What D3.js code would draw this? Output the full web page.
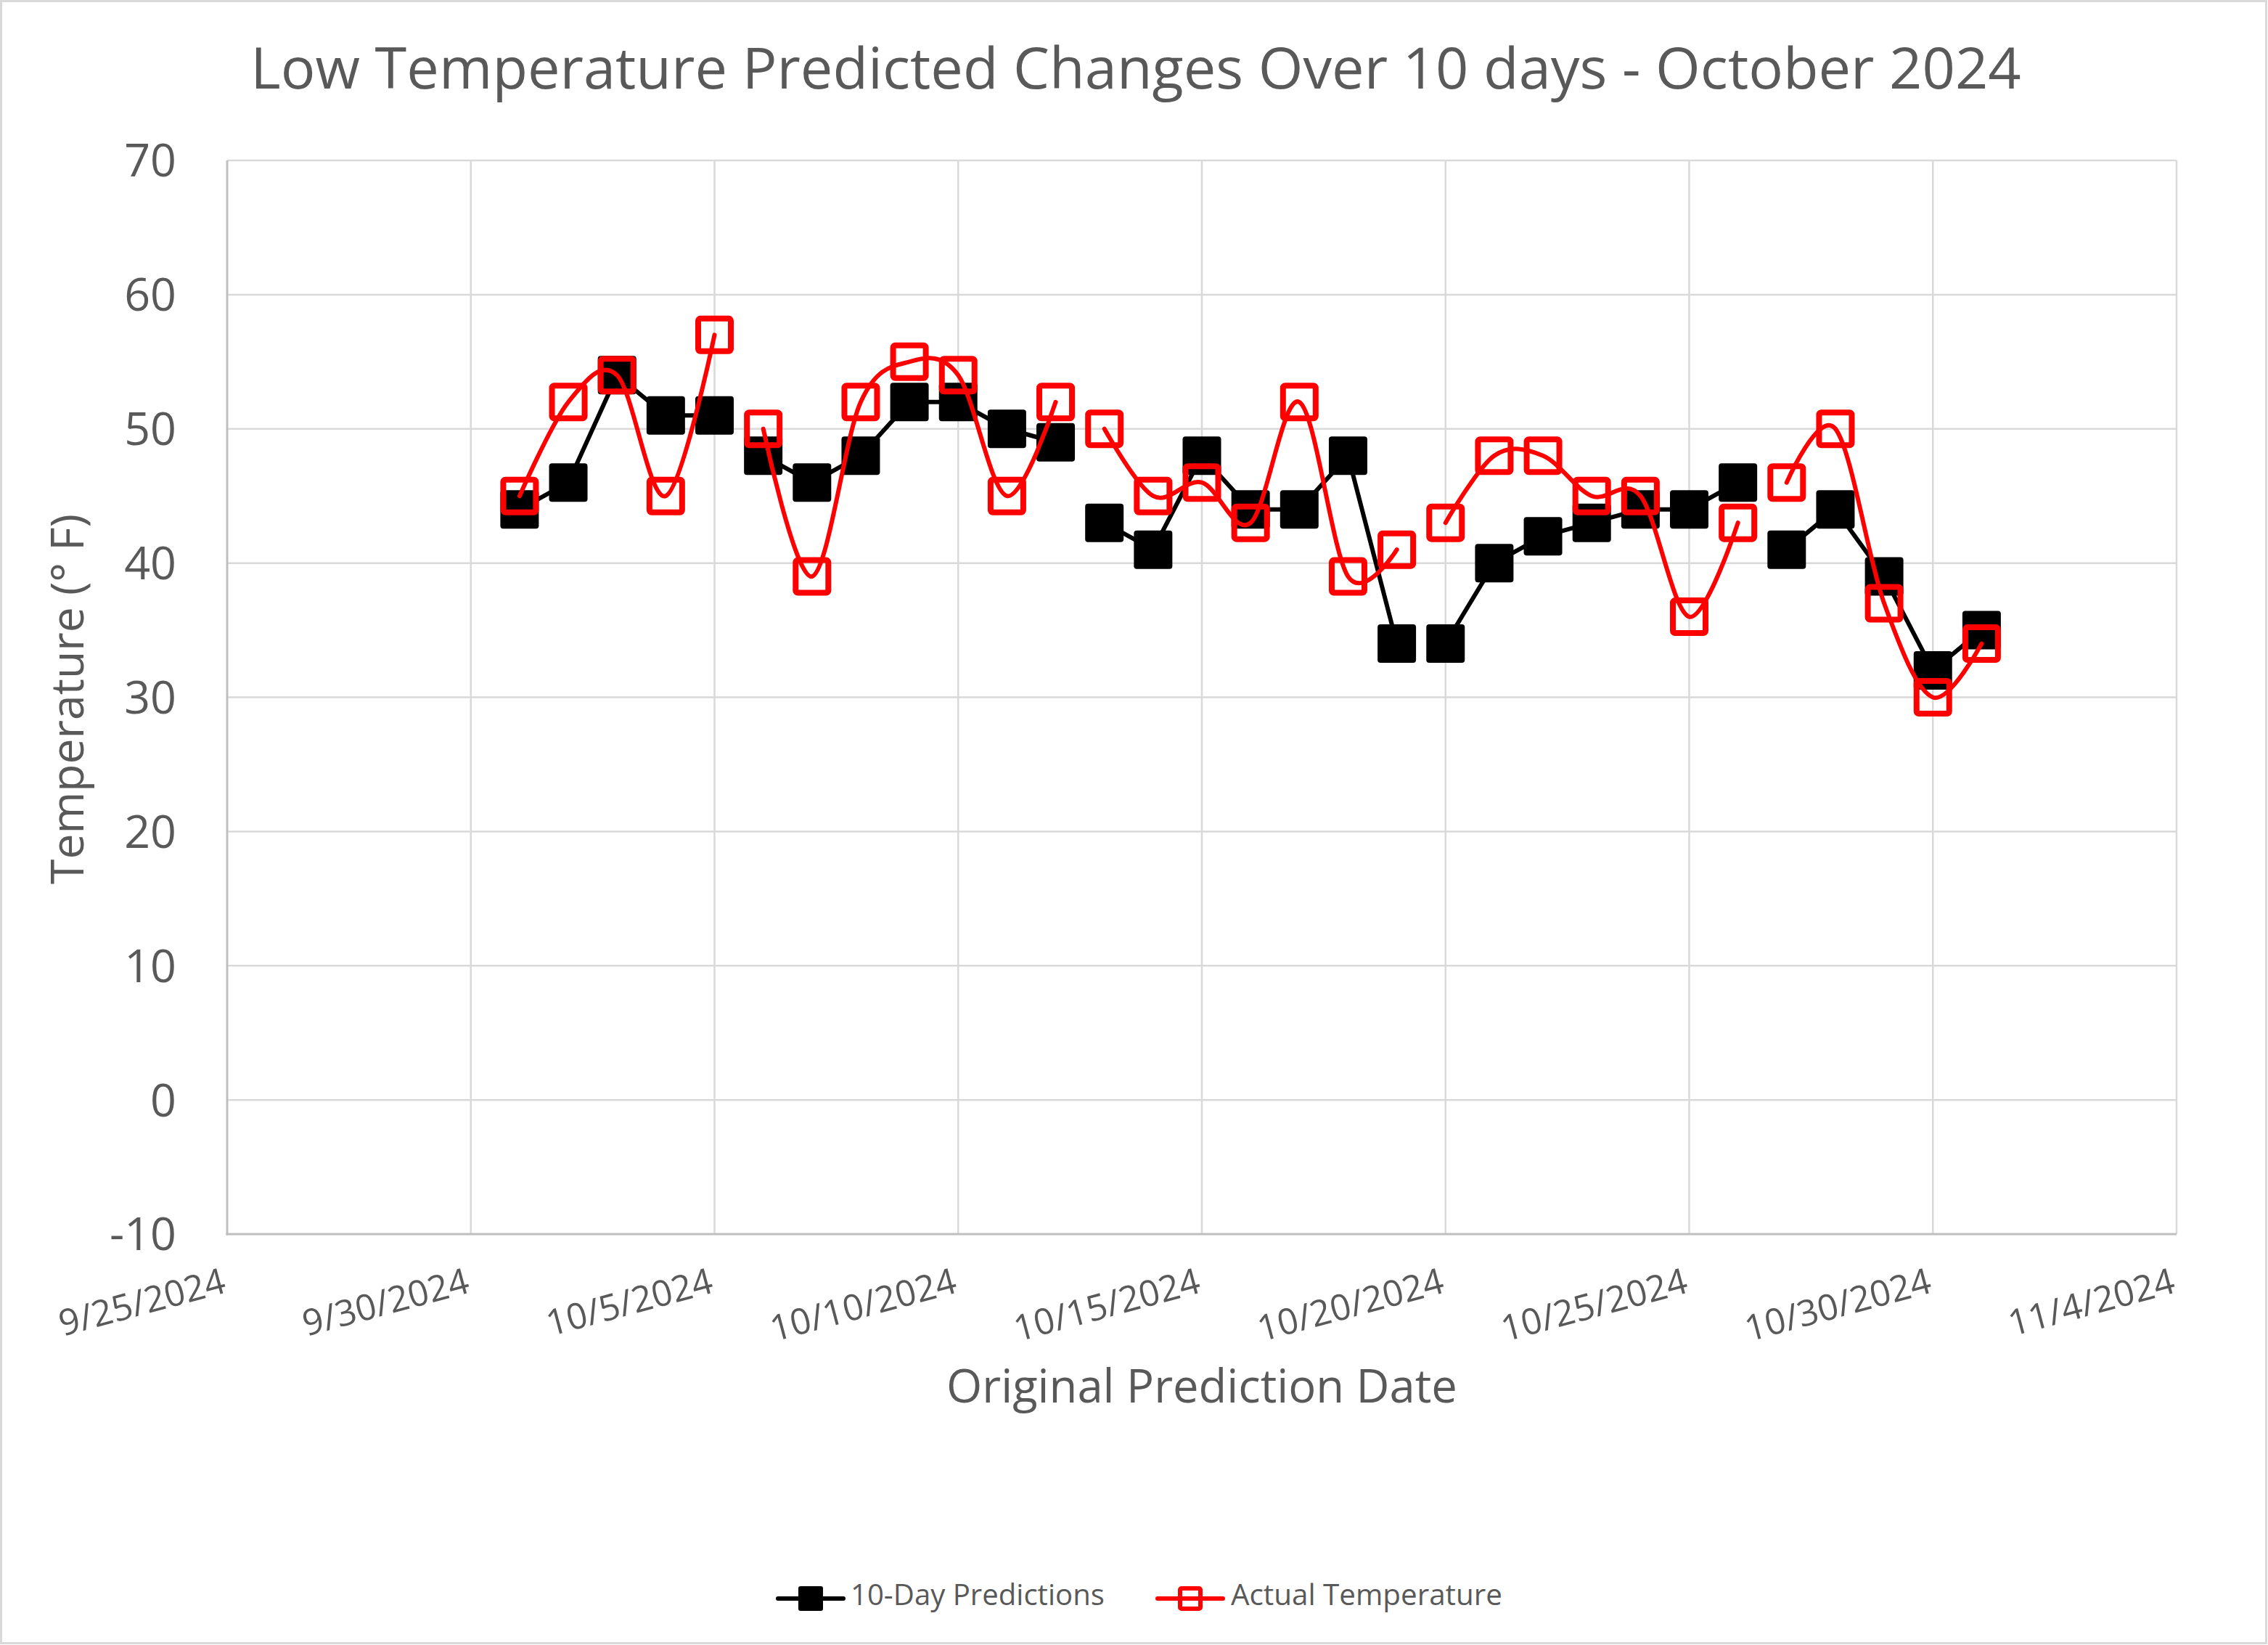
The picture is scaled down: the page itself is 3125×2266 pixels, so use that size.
<!DOCTYPE html>
<html><head><meta charset="utf-8">
<script src="https://cdn.jsdelivr.net/npm/d3@7"></script>
<style>body{margin:0;background:#fff} svg{display:block}</style>
</head><body>
<svg id="chart" width="3125" height="2266"></svg>
<script>
// ---------- data ----------
const dates = ["2024-10-01","2024-10-02","2024-10-03","2024-10-04","2024-10-05","2024-10-06","2024-10-07",
  "2024-10-08","2024-10-09","2024-10-10","2024-10-11","2024-10-12","2024-10-13","2024-10-14","2024-10-15",
  "2024-10-16","2024-10-17","2024-10-18","2024-10-19","2024-10-20","2024-10-21","2024-10-22","2024-10-23",
  "2024-10-24","2024-10-25","2024-10-26","2024-10-27","2024-10-28","2024-10-29","2024-10-30","2024-10-31"];
const predictions = [44,46,54,51,51,48,46,48,52,52,50,49,43,41,48,44,44,48,34,34,40,42,43,44,44,46,41,44,39,32,35];
const actual      = [45,52,54,45,57,50,39,52,55,54,45,52,50,45,46,43,52,39,41,43,48,48,45,45,36,43,46,50,37,30,34];
// the lines restart (gap) at these dates
const segmentStarts = ["2024-10-06","2024-10-13","2024-10-20","2024-10-27"];
const xTickDates = ["2024-09-25","2024-09-30","2024-10-05","2024-10-10","2024-10-15","2024-10-20","2024-10-25","2024-10-30","2024-11-04"];
const yTicks = [-10,0,10,20,30,40,50,60,70];
const seriesNames = ["10-Day Predictions","Actual Temperature"];
const titleText = "Low Temperature Predicted Changes Over 10 days - October 2024";
const xTitle = "Original Prediction Date";
const yTitle = "Temperature (° F)";

// ---------- setup ----------
const parse = d3.timeParse("%Y-%m-%d");
const fmt = d3.timeFormat("%-m/%-d/%Y");
const FONT = "'Open Sans', 'Noto Sans', sans-serif";
const TXT = "#595959";
const svg = d3.select("#chart");
const W = 3125, H = 2266;
const plot = {left: 313, right: 2999, top: 221, bottom: 1700};

svg.append("rect").attr("x",1.5).attr("y",1.5).attr("width",W-4).attr("height",H-4)
  .attr("fill","#fff").attr("stroke","#d9d9d9").attr("stroke-width",3);

const x = d3.scaleTime().domain([parse(xTickDates[0]), parse(xTickDates[xTickDates.length-1])]).range([plot.left, plot.right]);
const y = d3.scaleLinear().domain([-10,70]).range([plot.bottom, plot.top]);

function fit(sel, target){
  sel.style("font-size","50px");
  const w = sel.node().getComputedTextLength();
  const fs = 50*target/w;
  sel.style("font-size", fs+"px");
  return fs;
}

// gridlines
const g = svg.append("g");
g.selectAll(".hg").data(yTicks.filter(t=>t>-10)).join("line")
  .attr("x1",plot.left).attr("x2",plot.right).attr("y1",d=>y(d)).attr("y2",d=>y(d))
  .attr("stroke","#d9d9d9").attr("stroke-width",2.5);
g.selectAll(".vg").data(xTickDates.slice(1)).join("line")
  .attr("x1",d=>x(parse(d))).attr("x2",d=>x(parse(d))).attr("y1",plot.top).attr("y2",plot.bottom)
  .attr("stroke","#d9d9d9").attr("stroke-width",2.5);

// axes
const yAxis = svg.append("g").attr("transform",`translate(${plot.left-70},0)`)
  .call(d3.axisLeft(y).tickValues(yTicks).tickSize(0).tickPadding(0).tickFormat(d=>d));
yAxis.select(".domain").remove();
yAxis.selectAll("text").attr("fill",TXT).attr("font-family",FONT).attr("dy","0.35em");
{
  const fs = fit(yAxis.selectAll("text").filter(d=>d===-10), 92);
  yAxis.selectAll("text").style("font-size",fs+"px");
}
const xAxis = svg.append("g").attr("transform",`translate(0,${plot.bottom})`)
  .call(d3.axisBottom(x).tickValues(xTickDates.map(parse)).tickSize(0).tickFormat(fmt));
xAxis.select(".domain").remove();
xAxis.selectAll("text").attr("fill",TXT).attr("font-family",FONT)
  .attr("text-anchor","end").attr("dy",0).attr("y",0)
  .attr("transform","translate(0,80) rotate(-15)");
{
  const fs = fit(xAxis.selectAll("text").filter((d,i)=>i===0), 235);
  xAxis.selectAll("text").style("font-size",fs+"px");
}

svg.append("line").attr("x1",plot.left).attr("x2",plot.left).attr("y1",plot.top).attr("y2",plot.bottom+1.5)
  .attr("stroke","#bfbfbf").attr("stroke-width",3);
svg.append("line").attr("x1",plot.left-1.5).attr("x2",plot.right).attr("y1",plot.bottom).attr("y2",plot.bottom)
  .attr("stroke","#bfbfbf").attr("stroke-width",3);

// titles
const t = svg.append("text").text(titleText).attr("x",1565).attr("y",122)
  .attr("text-anchor","middle").attr("fill",TXT).attr("font-family",FONT);
fit(t, 2440);
const xt = svg.append("text").text(xTitle).attr("x",(plot.left+plot.right)/2).attr("y",1932)
  .attr("text-anchor","middle").attr("fill",TXT).attr("font-family",FONT);
fit(xt, 704);
const yt = svg.append("text").text(yTitle).attr("transform","translate(115,963) rotate(-90)")
  .attr("text-anchor","middle").attr("fill",TXT).attr("font-family",FONT);
fit(yt, 510);

// series
function segments(values){
  const segs = []; let cur = [];
  dates.forEach((d,i)=>{
    if (segmentStarts.includes(d) && cur.length){ segs.push(cur); cur = []; }
    cur.push({date: parse(d), v: values[i]});
  });
  if (cur.length) segs.push(cur);
  return segs;
}
const pts = vals => dates.map((d,i)=>({date: parse(d), v: vals[i]}));

const straight = d3.line().x(d=>x(d.date)).y(d=>y(d.v));
const smooth = d3.line().x(d=>x(d.date)).y(d=>y(d.v)).curve(d3.curveCatmullRom.alpha(0));

const M = 53;
const sPred = svg.append("g");
sPred.selectAll("path").data(segments(predictions)).join("path")
  .attr("d",straight).attr("fill","none").attr("stroke","#000").attr("stroke-width",6)
  .attr("stroke-linejoin","round").attr("stroke-linecap","round");
sPred.selectAll("rect").data(pts(predictions)).join("rect")
  .attr("x",d=>x(d.date)-M/2).attr("y",d=>y(d.v)-M/2).attr("width",M).attr("height",M)
  .attr("rx",4).attr("fill","#000");

const R = 45;
const sAct = svg.append("g");
sAct.selectAll("path").data(segments(actual)).join("path")
  .attr("d",smooth).attr("fill","none").attr("stroke","#ff0000").attr("stroke-width",6)
  .attr("stroke-linejoin","round").attr("stroke-linecap","round");
sAct.selectAll("rect").data(pts(actual)).join("rect")
  .attr("x",d=>x(d.date)-R/2).attr("y",d=>y(d.v)-R/2).attr("width",R).attr("height",R)
  .attr("rx",3).attr("fill","none").attr("stroke","#ff0000").attr("stroke-width",8);

// legend
const ly = 2202;
const leg = svg.append("g");
leg.append("line").attr("x1",1072).attr("x2",1162).attr("y1",ly).attr("y2",ly)
  .attr("stroke","#000").attr("stroke-width",6).attr("stroke-linecap","round");
leg.append("rect").attr("x",1117-17).attr("y",ly-17).attr("width",34).attr("height",34).attr("rx",3).attr("fill","#000");
const l1 = leg.append("text").text(seriesNames[0]).attr("x",1172).attr("y",ly-5).attr("dy","0.35em")
  .attr("fill",TXT).attr("font-family",FONT);
fit(l1, 350);
leg.append("line").attr("x1",1595).attr("x2",1685).attr("y1",ly).attr("y2",ly)
  .attr("stroke","#ff0000").attr("stroke-width",6).attr("stroke-linecap","round");
leg.append("rect").attr("x",1640-14).attr("y",ly-14).attr("width",28).attr("height",28).attr("rx",2)
  .attr("fill","none").attr("stroke","#ff0000").attr("stroke-width",6);
const l2 = leg.append("text").text(seriesNames[1]).attr("x",1696).attr("y",ly-5).attr("dy","0.35em")
  .attr("fill",TXT).attr("font-family",FONT);
fit(l2, 374);
</script>
</body></html>
